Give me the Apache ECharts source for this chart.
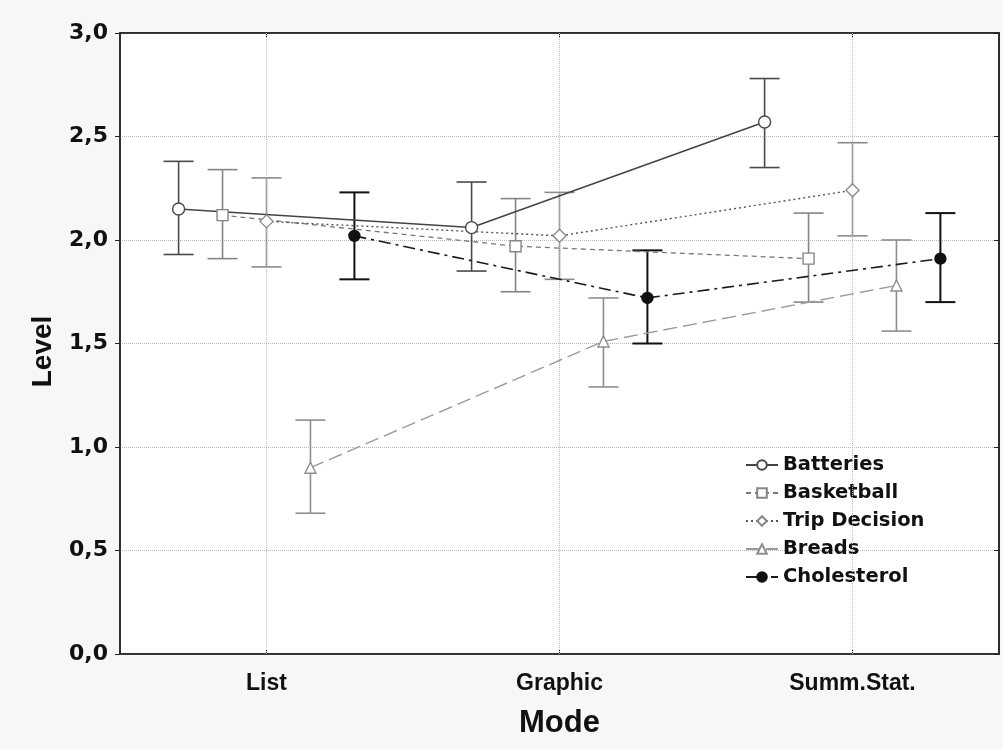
<!DOCTYPE html>
<html><head><meta charset="utf-8">
<script src="https://cdn.jsdelivr.net/npm/echarts@6/dist/echarts.min.js"></script>
<style>html,body{margin:0;padding:0;background:#f7f7f7}#c{width:1003px;height:749px}</style>
</head><body><div id="c"></div>
<script>
const categories = ['List', 'Graphic', 'Summ.Stat.'];
const seriesNames = ['Batteries', 'Basketball', 'Trip Decision', 'Breads', 'Cholesterol'];
const batteriesMean  = [2.15, 2.06, 2.57];
const batteriesUpper = [2.38, 2.28, 2.78];
const batteriesLower = [1.93, 1.85, 2.35];
const basketballMean  = [2.12, 1.97, 1.91];
const basketballUpper = [2.34, 2.20, 2.13];
const basketballLower = [1.91, 1.75, 1.70];
const tripMean  = [2.09, 2.02, 2.24];
const tripUpper = [2.30, 2.23, 2.47];
const tripLower = [1.87, 1.81, 2.02];
const breadsMean  = [0.90, 1.51, 1.78];
const breadsUpper = [1.13, 1.72, 2.00];
const breadsLower = [0.68, 1.29, 1.56];
const cholMean  = [2.02, 1.72, 1.91];
const cholUpper = [2.23, 1.95, 2.13];
const cholLower = [1.81, 1.50, 1.70];
const yTickLabels = ['0,0', '0,5', '1,0', '1,5', '2,0', '2,5', '3,0'];

const means = [batteriesMean, basketballMean, tripMean, breadsMean, cholMean];
const uppers = [batteriesUpper, basketballUpper, tripUpper, breadsUpper, cholUpper];
const lowers = [batteriesLower, basketballLower, tripLower, breadsLower, cholLower];

// layout / styles
const offsets = [-0.3, -0.15, 0, 0.15, 0.3];
const styles = [
  { line: '#444', bar: '#4a4a4a', dash: 'solid', symbol: 'circle', size: 12, fill: '#fff', width: 1.5 },
  { line: '#777', bar: '#858585', dash: [5, 4], symbol: 'rect', size: 11, fill: '#fff', width: 1.3 },
  { line: '#555', bar: '#8a8a8a', dash: [2, 3], symbol: 'diamond', size: 13, fill: '#fff', width: 1.4 },
  { line: '#9a9a9a', bar: '#8e8e8e', dash: [14, 6], symbol: 'triangle', size: 11, fill: '#fff', width: 1.4 },
  { line: '#1a1a1a', bar: '#111', dash: [12, 5, 3, 5], symbol: 'circle', size: 11, fill: '#111', width: 1.6 }
];
const font = '"Liberation Sans", Arial, sans-serif';
const wide = '"DejaVu Sans", Verdana, sans-serif';

const series = [];
// vertical grid lines at category centers
series.push({
  type: 'line', xAxisIndex: 0, yAxisIndex: 0, data: [], silent: true,
  markLine: {
    silent: true, symbol: 'none', label: { show: false },
    lineStyle: { type: 'dotted', color: '#b8b8b8', width: 1 },
    data: categories.map((c, i) => ({ xAxis: i + 0.5 }))
  }
});
seriesNames.forEach((name, s) => {
  const st = styles[s];
  series.push({
    type: 'custom', name: name + ' err', xAxisIndex: 0, yAxisIndex: 0, z: 3,
    silent: true,
    data: categories.map((c, i) => [i + 0.5 + offsets[s], lowers[s][i], uppers[s][i]]),
    renderItem: function (params, api) {
      const lo = api.coord([api.value(0), api.value(1)]);
      const hi = api.coord([api.value(0), api.value(2)]);
      const hw = 15;
      const ls = { stroke: st.bar, lineWidth: s === 4 ? 2 : 1.6 };
      return {
        type: 'group', children: [
          { type: 'line', shape: { x1: lo[0], y1: lo[1], x2: hi[0], y2: hi[1] }, style: ls },
          { type: 'line', shape: { x1: hi[0] - hw, y1: hi[1], x2: hi[0] + hw, y2: hi[1] }, style: ls },
          { type: 'line', shape: { x1: lo[0] - hw, y1: lo[1], x2: lo[0] + hw, y2: lo[1] }, style: ls }
        ]
      };
    }
  });
  series.push({
    type: 'line', name: name, xAxisIndex: 0, yAxisIndex: 0, z: 5,
    data: categories.map((c, i) => [i + 0.5 + offsets[s], means[s][i]]),
    symbol: st.symbol, symbolSize: st.size, showAllSymbol: true,
    lineStyle: { color: st.line, type: st.dash, width: st.width },
    itemStyle: { color: st.fill, borderColor: s === 4 ? '#111' : st.bar, borderWidth: 1.4 }
  });
});

const chart = echarts.init(document.getElementById('c'));
chart.setOption({
  animation: false,
  backgroundColor: '#f7f7f7',
  grid: { left: 120, right: 4, top: 33, bottom: 95, show: true, backgroundColor: '#fff', borderColor: '#222', borderWidth: 1.5 },
  legend: {
    data: seriesNames, orient: 'vertical', left: 740, top: 450,
    itemWidth: 32, itemHeight: 12, itemGap: 8,
    textStyle: { fontFamily: wide, fontWeight: 'bold', fontSize: 19.5, color: '#111' }
  },
  xAxis: [
    { type: 'value', min: 0, max: 3, show: false },
    {
      type: 'category', data: categories, position: 'bottom', boundaryGap: true,
      axisLine: { show: true, lineStyle: { color: '#222', width: 1.5 } },
      axisTick: { show: true, alignWithLabel: true, inside: true, length: 5, lineStyle: { color: '#222' } },
      axisLabel: { margin: 18, fontFamily: font, fontWeight: 'bold', fontSize: 23, color: '#111' },
      splitLine: { show: false },
      name: 'Mode', nameLocation: 'middle', nameGap: 54,
      nameTextStyle: { fontFamily: font, fontWeight: 'bold', fontSize: 31, color: '#111' }
    },
    {
      type: 'category', data: categories, position: 'top', boundaryGap: true,
      axisLine: { show: true, lineStyle: { color: '#222', width: 1.5 } },
      axisTick: { show: true, alignWithLabel: true, inside: true, length: 5, lineStyle: { color: '#222' } },
      axisLabel: { show: false }, splitLine: { show: false }
    }
  ],
  yAxis: [
    {
      type: 'value', min: 0, max: 3, interval: 0.5, position: 'left',
      axisLine: { show: true, lineStyle: { color: '#222', width: 1.5 } },
      axisTick: { show: true, inside: false, length: 5, lineStyle: { color: '#222' } },
      axisLabel: {
        margin: 12, fontFamily: wide, fontWeight: 'bold', fontSize: 22, color: '#111',
        formatter: (v) => yTickLabels[Math.round(v * 2)]
      },
      splitLine: { show: true, lineStyle: { type: 'dotted', color: '#b8b8b8', width: 1 } },
      name: 'Level', nameLocation: 'middle', nameGap: 63, nameRotate: 90,
      nameTextStyle: { fontFamily: font, fontWeight: 'bold', fontSize: 28, color: '#111', padding: [0, 16, 0, 0] }
    },
    {
      type: 'value', min: 0, max: 3, interval: 0.5, position: 'right',
      axisLine: { show: true, lineStyle: { color: '#222', width: 1.5 } },
      axisTick: { show: true, inside: true, length: 5, lineStyle: { color: '#222' } },
      axisLabel: { show: false }, splitLine: { show: false }
    }
  ],
  series: series
});
</script>
</body></html>
